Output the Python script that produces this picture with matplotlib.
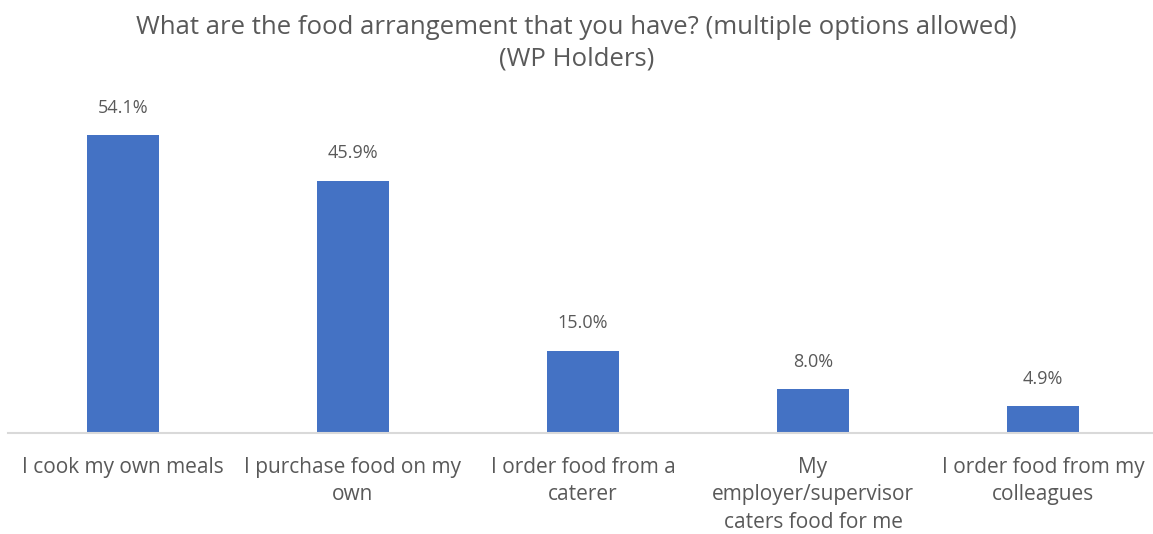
import matplotlib.pyplot as plt

plt.rcParams['font.family'] = ['Open Sans', 'DejaVu Sans']

categories = [
    'I cook my own meals',
    'I purchase food on my\nown',
    'I order food from a\ncaterer',
    'My\nemployer/supervisor\ncaters food for me',
    'I order food from my\ncolleagues',
]
shares = [54.1, 45.9, 15.0, 8.0, 4.9]

text_grey = '#595959'
bar_blue = '#4472C4'

fig = plt.figure(figsize=(11.53, 5.34), dpi=100)
ax = fig.add_axes([8 / 1153, 1 - 433 / 534, 1150 / 1153, 330 / 534])

x = range(len(categories))
bars = ax.bar(x, shares, width=0.31, color=bar_blue, zorder=2)
for rect, v in zip(bars, shares):
    ax.annotate(f'{v:.1f}%', (rect.get_x() + rect.get_width() / 2, v),
                xytext=(0, 13), textcoords='offset points',
                ha='center', va='bottom', fontsize=13, color=text_grey)

ax.set_xlim(-0.5, len(categories) - 0.5)
ax.set_ylim(0, 60)
ax.set_xticks(list(x))
ax.set_xticklabels(categories, fontsize=15, color=text_grey, linespacing=1.42)
ax.tick_params(axis='x', length=0, pad=17)
ax.set_yticks([])
for side in ['top', 'left', 'right']:
    ax.spines[side].set_visible(False)
ax.spines['bottom'].set_color('#d9d9d9')
ax.spines['bottom'].set_linewidth(1.5)

fig.text(0.5, 1 - 43 / 534,
         'What are the food arrangement that you have? (multiple options allowed)\n(WP Holders)',
         ha='center', va='center', fontsize=18.5, color=text_grey, linespacing=1.33)

fig.savefig('out.png', dpi=100)
